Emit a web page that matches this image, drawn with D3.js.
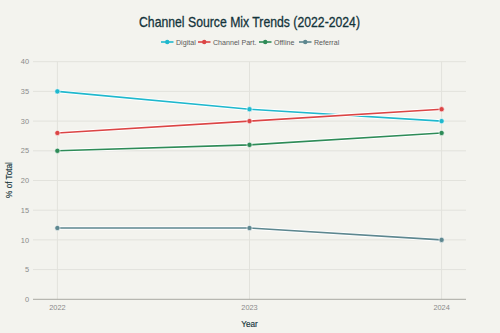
<!DOCTYPE html>
<html>
<head>
<meta charset="utf-8">
<script src="https://cdn.jsdelivr.net/npm/d3@7"></script>
<style>
  body { margin: 0; background: #f3f3ee; }
  svg { display: block; font-family: "Liberation Sans", Arial, sans-serif; }
</style>
</head>
<body>
<div id="chart"></div>
<script>
const years = [2022, 2023, 2024];
const digital = [35, 32, 30];
const channelPart = [28, 30, 32];
const offline = [25, 26, 28];
const referral = [12, 12, 10];
const yTicks = [0, 5, 10, 15, 20, 25, 30, 35, 40];

const series = [
  { name: "Digital", values: digital, color: "#1fb8cd" },
  { name: "Channel Part.", values: channelPart, color: "#db4545" },
  { name: "Offline", values: offline, color: "#2e8b57" },
  { name: "Referral", values: referral, color: "#5d878f" }
];

const width = 500;
const height = 333;
const margin = { top: 61.7, right: 34, bottom: 33.7, left: 33 };

const svg = d3.select("#chart")
  .append("svg")
  .attr("width", width)
  .attr("height", height);

svg.append("rect")
  .attr("width", width)
  .attr("height", height)
  .attr("fill", "#f3f3ee");

const x = d3.scalePoint()
  .domain(years)
  .range([margin.left, width - margin.right])
  .padding(0.127);

const y = d3.scaleLinear()
  .domain([0, 40])
  .range([height - margin.bottom, margin.top]);

// grid
svg.append("g")
  .selectAll("line")
  .data(yTicks.slice(1))
  .enter()
  .append("line")
  .attr("x1", margin.left)
  .attr("x2", width - margin.right)
  .attr("y1", d => y(d))
  .attr("y2", d => y(d))
  .attr("stroke", "#e2e2dc")
  .attr("stroke-width", 1);

svg.append("g")
  .selectAll("line")
  .data(years)
  .enter()
  .append("line")
  .attr("x1", d => x(d))
  .attr("x2", d => x(d))
  .attr("y1", margin.top)
  .attr("y2", height - margin.bottom)
  .attr("stroke", "#e2e2dc")
  .attr("stroke-width", 1);

// zero line
svg.append("line")
  .attr("x1", margin.left)
  .attr("x2", width - margin.right)
  .attr("y1", y(0))
  .attr("y2", y(0))
  .attr("stroke", "#a8a8a2")
  .attr("stroke-width", 1);

// y tick labels
svg.append("g")
  .selectAll("text")
  .data(yTicks)
  .enter()
  .append("text")
  .attr("x", 29)
  .attr("y", d => y(d) + 2.6)
  .attr("text-anchor", "end")
  .attr("font-size", 7.4)
  .attr("fill", "#8a8a8a")
  .text(d => d);

// x tick labels
svg.append("g")
  .selectAll("text")
  .data(years)
  .enter()
  .append("text")
  .attr("x", d => x(d))
  .attr("y", 310)
  .attr("text-anchor", "middle")
  .attr("font-size", 7.4)
  .attr("fill", "#8a8a8a")
  .text(d => d);

// axis titles
svg.append("text")
  .attr("x", x(2023))
  .attr("y", 327)
  .attr("text-anchor", "middle")
  .attr("font-size", 8.2)
  .attr("fill", "#13343b")
  .attr("stroke", "#13343b")
  .attr("stroke-width", 0.15)
  .text("Year");

svg.append("text")
  .attr("transform", "translate(12,180) rotate(-90)")
  .attr("text-anchor", "middle")
  .attr("font-size", 8.2)
  .attr("fill", "#13343b")
  .attr("stroke", "#13343b")
  .attr("stroke-width", 0.15)
  .text("% of Total");

// title
svg.append("text")
  .attr("x", 139)
  .attr("y", 27)
  .attr("font-size", 14.5)
  .attr("textLength", 221)
  .attr("lengthAdjust", "spacingAndGlyphs")
  .attr("fill", "#13343b")
  .attr("stroke", "#13343b")
  .attr("stroke-width", 0.3)
  .text("Channel Source Mix Trends (2022-2024)");

// lines
const line = d3.line()
  .x((d, i) => x(years[i]))
  .y(d => y(d));

const sg = svg.append("g")
  .selectAll("g")
  .data(series)
  .enter()
  .append("g");

sg.append("path")
  .attr("d", d => line(d.values))
  .attr("fill", "none")
  .attr("stroke", "#ffffff")
  .attr("stroke-width", 3.5);

sg.append("path")
  .attr("d", d => line(d.values))
  .attr("fill", "none")
  .attr("stroke", d => d.color)
  .attr("stroke-width", 1.6);

sg.selectAll("circle")
  .data(d => d.values.map((v, i) => ({ v, i, color: d.color })))
  .enter()
  .append("circle")
  .attr("cx", d => x(years[d.i]))
  .attr("cy", d => y(d.v))
  .attr("r", 2.6)
  .attr("fill", d => d.color)
  .attr("stroke", "#ffffff")
  .attr("stroke-width", 0.6);

// legend
const legendX = [161, 198, 259, 299];
const lg = svg.append("g")
  .selectAll("g")
  .data(series)
  .enter()
  .append("g")
  .attr("transform", (d, i) => `translate(${legendX[i]},42)`);

lg.append("line")
  .attr("x1", 0)
  .attr("x2", 12.5)
  .attr("stroke", d => d.color)
  .attr("stroke-width", 1.6);

lg.append("circle")
  .attr("cx", 6.25)
  .attr("r", 2.2)
  .attr("fill", d => d.color);

lg.append("text")
  .attr("x", 15)
  .attr("y", 2.5)
  .attr("font-size", 7.1)
  .attr("fill", "#5a5a5a")
  .text(d => d.name);
</script>
</body>
</html>
